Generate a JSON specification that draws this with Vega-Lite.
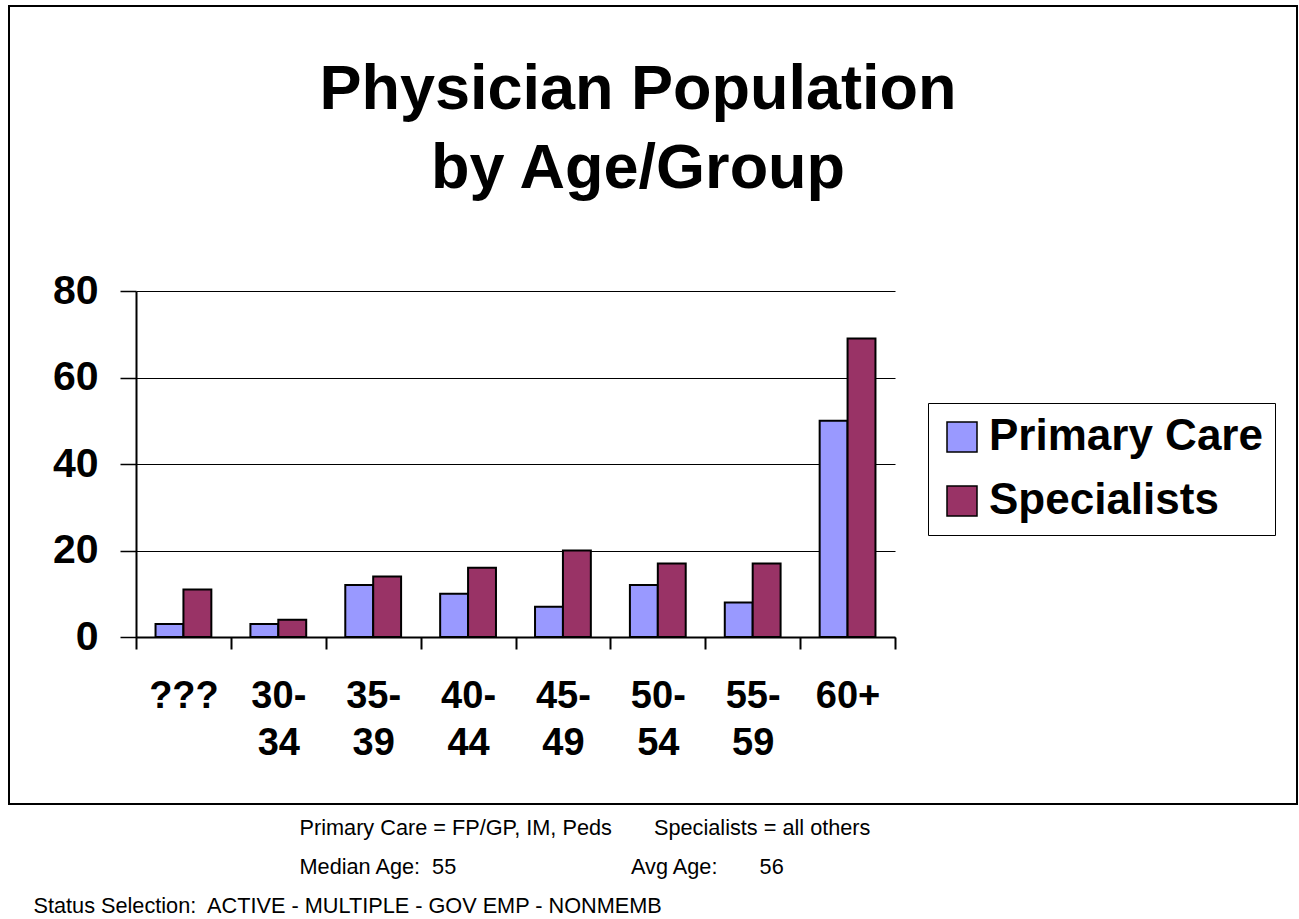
{
  "$schema": "https://vega.github.io/schema/vega-lite/v6.json",
  "autosize": {"type": "none"},
  "padding": {"left": 9, "top": 6, "right": 2, "bottom": 115},
  "width": 1288,
  "height": 798,
  "background": "white",
  "view": {"stroke": "black", "strokeWidth": 2, "fill": "white"},
  "config": {"font": "Liberation Sans"},
  "title": {
    "text": ["Physician Population", "by Age/Group"],
    "font": "Liberation Sans",
    "fontSize": 63,
    "fontWeight": "bold",
    "color": "black",
    "anchor": "middle",
    "frame": "group",
    "baseline": "top",
    "offset": 0,
    "dy": 195,
    "dx": -15,
    "lineHeight": 79
  },
  "data": {
    "values": [
      {"age": "???", "group": "Primary Care", "count": 3},
      {"age": "???", "group": "Specialists", "count": 11},
      {"age": "30-34", "group": "Primary Care", "count": 3},
      {"age": "30-34", "group": "Specialists", "count": 4},
      {"age": "35-39", "group": "Primary Care", "count": 12},
      {"age": "35-39", "group": "Specialists", "count": 14},
      {"age": "40-44", "group": "Primary Care", "count": 10},
      {"age": "40-44", "group": "Specialists", "count": 16},
      {"age": "45-49", "group": "Primary Care", "count": 7},
      {"age": "45-49", "group": "Specialists", "count": 20},
      {"age": "50-54", "group": "Primary Care", "count": 12},
      {"age": "50-54", "group": "Specialists", "count": 17},
      {"age": "55-59", "group": "Primary Care", "count": 8},
      {"age": "55-59", "group": "Specialists", "count": 17},
      {"age": "60+", "group": "Primary Care", "count": 50},
      {"age": "60+", "group": "Specialists", "count": 69}
    ]
  },
  "mark": {"type": "bar", "stroke": "black", "strokeWidth": 2},
  "encoding": {
    "x": {
      "field": "age",
      "type": "nominal",
      "sort": ["???", "30-34", "35-39", "40-44", "45-49", "50-54", "55-59", "60+"],
      "scale": {"range": [127, 886], "paddingInner": 0, "paddingOuter": 0},
      "axis": {
        "orient": "bottom",
        "offset": -167,
        "grid": false,
        "tickBand": "extent",
        "tickSize": 12,
        "tickWidth": 2,
        "tickColor": "black",
        "domainColor": "black",
        "domainWidth": 2,
        "labelFont": "Liberation Sans",
        "labelFontSize": 38,
        "labelFontWeight": "bold",
        "labelColor": "black",
        "labelAngle": 0,
        "labelBaseline": "top",
        "labelPadding": 28,
        "labelLineHeight": 47,
        "labelOverlap": false,
        "labelExpr": "length(datum.label) == 5 ? [substring(datum.label, 0, 3), substring(datum.label, 3)] : datum.label",
        "title": [
          "Primary Care = FP/GP, IM, Peds\u00a0\u00a0\u00a0\u00a0\u00a0\u00a0\u00a0Specialists = all others",
          "Median Age:\u00a0\u00a055\u00a0\u00a0\u00a0\u00a0\u00a0\u00a0\u00a0\u00a0\u00a0\u00a0\u00a0\u00a0\u00a0\u00a0\u00a0\u00a0\u00a0\u00a0\u00a0\u00a0\u00a0\u00a0\u00a0\u00a0\u00a0\u00a0\u00a0\u00a0\u00a0Avg Age:\u00a0\u00a0\u00a0\u00a0\u00a0\u00a0\u00a056"
        ],
        "titleFont": "Liberation Sans",
        "titleFontSize": 21.7,
        "titleFontWeight": "normal",
        "titleColor": "black",
        "titleX": 290,
        "titleY": 197,
        "titleAlign": "left",
        "titleAnchor": "start",
        "titleBaseline": "alphabetic",
        "titleLineHeight": 39,
        "titleAngle": 0
      }
    },
    "xOffset": {
      "field": "group",
      "type": "nominal",
      "sort": ["Primary Care", "Specialists"],
      "scale": {"paddingInner": 0, "paddingOuter": 0.7}
    },
    "y": {
      "field": "count",
      "type": "quantitative",
      "scale": {"domain": [0, 80], "range": [631, 285], "nice": false, "zero": true},
      "axis": {
        "orient": "left",
        "offset": -127,
        "values": [0, 20, 40, 60, 80],
        "grid": true,
        "gridColor": "black",
        "gridWidth": 1.2,
        "gridOpacity": 1,
        "domainColor": "black",
        "domainWidth": 2,
        "tickColor": "black",
        "tickSize": 16,
        "tickWidth": 1.5,
        "labelFont": "Liberation Sans",
        "labelFontSize": 41,
        "labelFontWeight": "bold",
        "labelColor": "black",
        "labelPadding": 22,
        "labelBaseline": "middle",
        "title": "Status Selection:\u00a0 ACTIVE - MULTIPLE - GOV EMP - NONMEMB",
        "titleFont": "Liberation Sans",
        "titleFontSize": 21.7,
        "titleFontWeight": "normal",
        "titleColor": "black",
        "titleAngle": 0,
        "titleAlign": "left",
        "titleBaseline": "alphabetic",
        "titleX": -103,
        "titleY": 906
      }
    },
    "color": {
      "field": "group",
      "type": "nominal",
      "scale": {"domain": ["Primary Care", "Specialists"], "range": ["#9999FF", "#993366"]},
      "legend": {
        "title": null,
        "orient": "none",
        "legendX": 919,
        "legendY": 397,
        "padding": 12,
        "strokeColor": "black",
        "fillColor": "white",
        "symbolType": "square",
        "symbolSize": 900,
        "symbolStrokeColor": "black",
        "symbolStrokeWidth": 1.5,
        "symbolOpacity": 1,
        "labelFont": "Liberation Sans",
        "labelFontSize": 44,
        "labelFontWeight": "bold",
        "labelColor": "black",
        "labelOffset": 5,
        "labelLimit": 0,
        "rowPadding": 20
      }
    }
  }
}
